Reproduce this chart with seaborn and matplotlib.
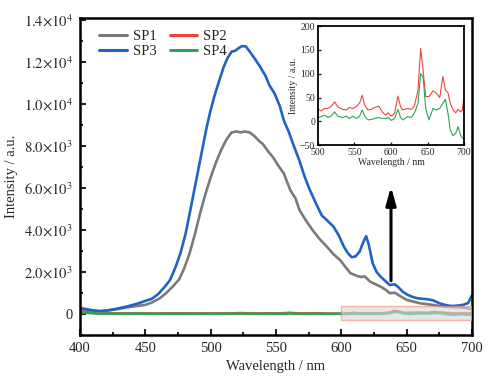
import numpy as np
import pandas as pd
import matplotlib
matplotlib.use("Agg")
import matplotlib.pyplot as plt
import seaborn as sns
from matplotlib.lines import Line2D
from matplotlib.patches import Rectangle
from matplotlib.ticker import MultipleLocator, FuncFormatter

# SP1 (gray) and SP3 (blue)
wl_sp1 = [400, 405, 410, 415, 420, 425, 430, 435, 440, 445, 450, 455, 461, 466, 471, 476, 480,
          484, 488, 492, 496, 500, 504, 508, 512, 516, 520, 523, 526, 530, 534, 537, 540,
          544, 548, 552, 556, 561, 565, 568, 573, 578, 583, 589, 594, 599, 603, 607, 612, 615,
          618, 622, 626, 630, 634, 637, 641, 645, 650, 655, 660, 665, 670, 675, 680, 685, 690,
          695, 700]
sp1 = [230, 180, 140, 120, 150, 190, 240, 300, 350, 390, 430, 540, 740, 990, 1300, 1650, 2200,
       2900, 3800, 4800, 5700, 6500, 7200, 7800, 8300, 8650, 8700, 8650, 8700, 8650, 8450,
       8250, 8100, 7750, 7450, 7050, 6700, 5900, 5500, 4950, 4450, 4000, 3600, 3200, 2850, 2570,
       2250, 1940, 1810, 1760, 1790, 1540, 1420, 1300, 1150, 990, 1010, 850, 670, 590, 510, 470,
       430, 380, 350, 330, 320, 280, 230]

wl_sp3 = [400, 405, 410, 415, 420, 425, 430, 435, 440, 445, 450, 455, 460, 465, 469, 473, 477,
          481, 485, 488, 491, 494, 497, 500, 503, 506, 510, 513, 516, 519, 521, 524, 527, 530,
          534, 538, 542, 545, 549, 553, 556, 560, 563, 568, 572, 576, 580, 585, 589, 594, 598,
          602, 605, 608, 611, 614, 617, 619, 621, 624, 627, 630, 634, 637, 641, 644, 647, 651,
          655, 658, 662, 666, 670, 675, 680, 684, 688, 693, 697, 700]
sp3 = [280, 230, 170, 140, 160, 210, 270, 340, 420, 510, 620, 720, 950, 1300, 1620, 2200, 2900,
       3850, 5100, 6050, 7000, 7950, 8900, 9700, 10400, 11000, 11770, 12200, 12500, 12550, 12650,
       12770, 12750, 12500, 12150, 11770, 11350, 10900, 10500, 9900, 9230, 8650, 8120, 7300,
       6530, 5900, 5350, 4700, 4470, 4160, 3750, 3200, 2900, 2700, 2750, 2970, 3450, 3710, 3300,
       2410, 2000, 1780, 1550, 1380, 1410, 1250, 1060, 900, 800, 750, 720, 700, 650, 510, 420,
       380, 390, 430, 520, 900]

# SP2 (red) and SP4 (green), low range from main plot, 500-700 from the inset
wl_low = [400, 404, 408, 412, 416, 420, 430, 440, 450, 460, 470, 480, 490, 497]
sp2_low = [110, 80, 55, 40, 30, 28, 30, 25, 28, 22, 30, 26, 24, 27]
sp4_low = [90, 65, 40, 25, 15, 12, 10, 9, 12, 8, 10, 7, 9, 10]

wl_ins = [501, 504.6, 509, 513.7, 518, 523, 527, 534, 539, 543, 548, 552.5, 557, 560.7, 564,
          568.5, 573, 577.6, 583.6, 588, 592.7, 596, 600.5, 605, 609.6, 613, 616.4, 623, 628,
          632, 637, 640.6, 644, 647.5, 652, 657.5, 662, 666.7, 671, 674.4, 678, 681, 685, 688.6,
          691.8, 695, 697.7, 699.5]
sp2_ins = [25, 22, 27, 27, 31, 41, 31, 25, 24, 29, 27, 31, 38, 55, 34, 24, 25, 29, 32, 20, 13,
           18, 11, 17, 53, 31, 24, 27, 25, 32, 66, 153, 107, 52, 52, 64, 59, 50, 94, 66, 60, 38,
           24, 18, 25, 20, 24, 48]
sp4_ins = [8, 10, 13, 8, 11, 20, 11, 8, 11, 6, 11, 6, 10, 24, 11, 3, 4, 6, 8, 6, 6, 8, 2, 6,
           25, 8, 3, 10, 8, 17, 38, 100, 93, 27, 3, 27, 24, 27, 38, 46, 17, -18, -30, -25, -11,
           -28, -35, -37]

colors = {"SP1": "#7a7a7a", "SP2": "#f0453a", "SP3": "#1f64c4", "SP4": "#2ea35a"}

frames = [
    pd.DataFrame({"wl": wl_sp1, "I": sp1, "s": "SP1"}),
    pd.DataFrame({"wl": wl_low + wl_ins, "I": sp2_low + sp2_ins, "s": "SP2"}),
    pd.DataFrame({"wl": wl_sp3, "I": sp3, "s": "SP3"}),
    pd.DataFrame({"wl": wl_low + wl_ins, "I": sp4_low + sp4_ins, "s": "SP4"}),
]
df = pd.concat(frames, ignore_index=True)
df_ins = df[(df["s"].isin(["SP2", "SP4"])) & (df["wl"] >= 500)]

sns.set_theme(style="ticks")
plt.rcParams["font.family"] = ["Liberation Serif", "DejaVu Serif"]
plt.rcParams["mathtext.fontset"] = "stix"

fig = plt.figure(figsize=(4.99, 3.78), dpi=100)
ax = fig.add_axes([0.160, 0.114, 0.786, 0.838])

sns.lineplot(data=df, x="wl", y="I", hue="s", hue_order=["SP1", "SP2", "SP3", "SP4"],
             palette=colors, linewidth=1.9, estimator=None, legend=False, ax=ax)

ax.add_patch(Rectangle((600, -290), 100, 670, facecolor="#d8d8d8", alpha=0.6,
                       edgecolor="#f08a78", linewidth=1.0, zorder=3))
ax.annotate("", xy=(638, 6200), xytext=(638, 1450),
            arrowprops=dict(arrowstyle="-|>,head_width=0.25,head_length=0.9",
                            color="black", lw=2.2))

ax.set_xlim(400, 700)
ax.set_ylim(-1000, 14100)
ax.xaxis.set_major_locator(MultipleLocator(50))
ax.xaxis.set_minor_locator(MultipleLocator(25))
ax.yaxis.set_major_locator(MultipleLocator(2000))
ax.yaxis.set_minor_locator(MultipleLocator(1000))


def sci(v, pos):
    if abs(v) < 1e-9:
        return "0"
    e = int(np.floor(np.log10(abs(v))))
    return r"$%.1f{\times}10^{%d}$" % (v / 10 ** e, e)


ax.yaxis.set_major_formatter(FuncFormatter(sci))
ax.tick_params(which="both", direction="in", width=1.5, labelsize=10.5, pad=5)
ax.tick_params(which="major", length=4)
ax.tick_params(which="minor", length=2.5)
for sp in ax.spines.values():
    sp.set_linewidth(1.8)
    sp.set_color("black")
ax.set_xlabel("Wavelength / nm", fontsize=10.5)
ax.set_ylabel("Intensity / a.u.", fontsize=10.5)

handles = [Line2D([], [], color=colors[k], lw=2.2) for k in ["SP1", "SP3", "SP2", "SP4"]]
ax.legend(handles, ["SP1", "SP3", "SP2", "SP4"], ncol=2, loc="upper left", frameon=False,
          fontsize=10.5, handlelength=1.9, handletextpad=0.4, columnspacing=0.9,
          labelspacing=0.15, borderaxespad=0.4, bbox_to_anchor=(0.02, 1.0))

# inset
ins = fig.add_axes([0.637, 0.616, 0.293, 0.315])
sns.lineplot(data=df_ins, x="wl", y="I", hue="s", hue_order=["SP2", "SP4"],
             palette=colors, linewidth=0.8, estimator=None, legend=False, ax=ins)
ins.set_xlim(500, 700)
ins.set_ylim(-50, 200)
ins.xaxis.set_major_locator(MultipleLocator(50))
ins.yaxis.set_major_locator(MultipleLocator(50))
ins.tick_params(direction="in", width=1.0, length=2.5, labelsize=7, pad=2)
for sp in ins.spines.values():
    sp.set_linewidth(1.3)
    sp.set_color("black")
ins.set_xlabel("Wavelength / nm", fontsize=7, labelpad=1)
ins.set_ylabel("Intensity / a.u.", fontsize=7, labelpad=1)

fig.savefig("out.png", dpi=100)
